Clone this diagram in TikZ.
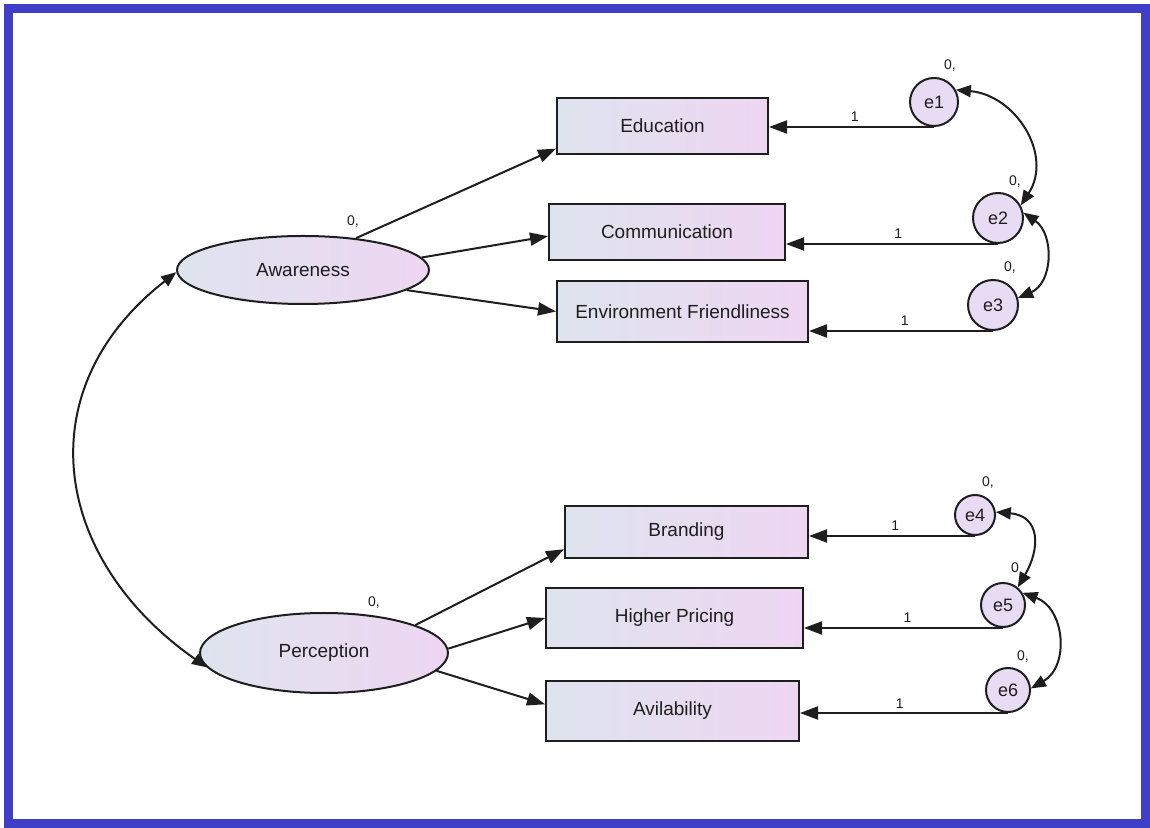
\documentclass[tikz,border=0pt]{standalone}
\usepackage{fontspec}
\setmainfont{Liberation Sans}
\usetikzlibrary{arrows.meta,shapes.geometric}
\definecolor{frameblue}{RGB}{62,62,200}
\definecolor{gleft}{RGB}{222,228,238}
\definecolor{gright}{RGB}{238,214,242}
\definecolor{errfill}{RGB}{232,220,244}
\definecolor{ink}{RGB}{30,30,30}
\begin{document}
\begin{tikzpicture}[x=1pt,y=1pt,
  obs/.style={rectangle, draw=ink, line width=2pt, left color=gleft, right color=gright,
    inner sep=0pt, font=\fontsize{19}{22}\selectfont, text=ink},
  lat/.style={ellipse, draw=ink, line width=2pt, left color=gleft, right color=gright,
    inner sep=0pt, font=\fontsize{19}{22}\selectfont, text=ink},
  err/.style={circle, draw=ink, line width=2pt, fill=errfill, inner sep=0pt,
    font=\fontsize{18}{20}\selectfont, text=ink},
  pth/.style={draw=ink, line width=2pt, -{Triangle[length=18pt,width=13pt]}},
  cov/.style={draw=ink, line width=2pt, {Triangle[length=15pt,width=12pt]}-{Triangle[length=15pt,width=12pt]}},
  lbl/.style={font=\fontsize{14}{16}\selectfont, text=ink, inner sep=1pt}
]
\useasboundingbox (0,0) rectangle (1150,827);
\fill[white] (0,0) rectangle (1150,827);
\draw[frameblue, line width=8.5pt] (8.5,3.5) rectangle (1145.5,818.5);

% observed variables
\node[obs, minimum width=211pt, minimum height=56pt] (edu) at (662.5,701) {Education};
\node[obs, minimum width=236pt, minimum height=56pt] (com) at (667,595) {Communication};
\node[obs, minimum width=251pt, minimum height=61pt] (env) at (682.5,515.5) {Environment Friendliness};
\node[obs, minimum width=243pt, minimum height=52pt] (bra) at (686.5,295) {Branding};
\node[obs, minimum width=257pt, minimum height=60pt] (hp) at (674.5,209) {Higher Pricing};
\node[obs, minimum width=253pt, minimum height=60pt] (av) at (672.5,116) {Avilability};

% latent variables
\node[lat, minimum width=252pt, minimum height=68pt] (aw) at (303,557) {Awareness};
\node[lat, minimum width=248pt, minimum height=80pt] (per) at (324,174) {Perception};

% error terms
\node[err, minimum size=48pt] (e1) at (934,725) {e1};
\node[err, minimum size=50pt] (e2) at (998,609) {e2};
\node[err, minimum size=50pt] (e3) at (993,522) {e3};
\node[err, minimum size=40pt] (e4) at (975,312) {e4};
\node[err, minimum size=44pt] (e5) at (1003,222) {e5};
\node[err, minimum size=44pt] (e6) at (1008,137) {e6};

% loadings
\draw[pth] (aw.31) -- (edu.192);
\draw[pth] (aw.6) -- (com.182);
\draw[pth] (aw.-11) -- (env.west);
\draw[pth] (per.17) -- (bra.188);
\draw[pth] (per.2) -- (hp.west);
\draw[pth] (per.-9) -- (av.177);

% error paths
\draw[pth] (e1.south) -- node[lbl, pos=0.48, above=3pt] (l1) {1} (e1.south -| edu.east);
\draw[pth] (e2.south) -- node[lbl, pos=0.47, above=3pt] (l2) {1} (e2.south -| com.east);
\draw[pth] (e3.south) -- node[lbl, pos=0.48, above=3pt] (l3) {1} (e3.south -| env.east);
\draw[pth] (e4.south) -- node[lbl, pos=0.48, above=3pt] (l4) {1} (e4.south -| bra.east);
\draw[pth] (e5.south) -- node[lbl, pos=0.48, above=3pt] (l5) {1} (e5.south -| hp.east);
\draw[pth] (e6.south) -- node[lbl, pos=0.52, above=3pt] (l6) {1} (e6.south -| av.east);

% covariances
\draw[cov] (e1.29) .. controls +(-5:60) and +(57:60) .. (e2.29);
\draw[cov] (e2.12) .. controls +(-35:38) and +(23:38) .. (e3.16);
\draw[cov] (e4.8) .. controls +(-5:45) and +(60:45) .. (e5.50);
\draw[cov] (e5.32) .. controls +(-20:45) and +(30:45) .. (e6.4);
\draw[cov] (aw.181) .. controls +(218:190) and +(145:190) .. (per.187);

% variance labels
\node[lbl] (v1) at (950,761) {0,};
\node[lbl] (v2) at (1015,645) {0,};
\node[lbl] (v3) at (1010,559) {0,};
\node[lbl] (v4) at (988,344) {0,};
\node[lbl] (v5) at (1015,259) {0};
\node[lbl] (v6) at (1023,170) {0,};
\node[lbl] (va) at (353,605) {0,};
\node[lbl] (vp) at (374,224) {0,};
\end{tikzpicture}
\end{document}
